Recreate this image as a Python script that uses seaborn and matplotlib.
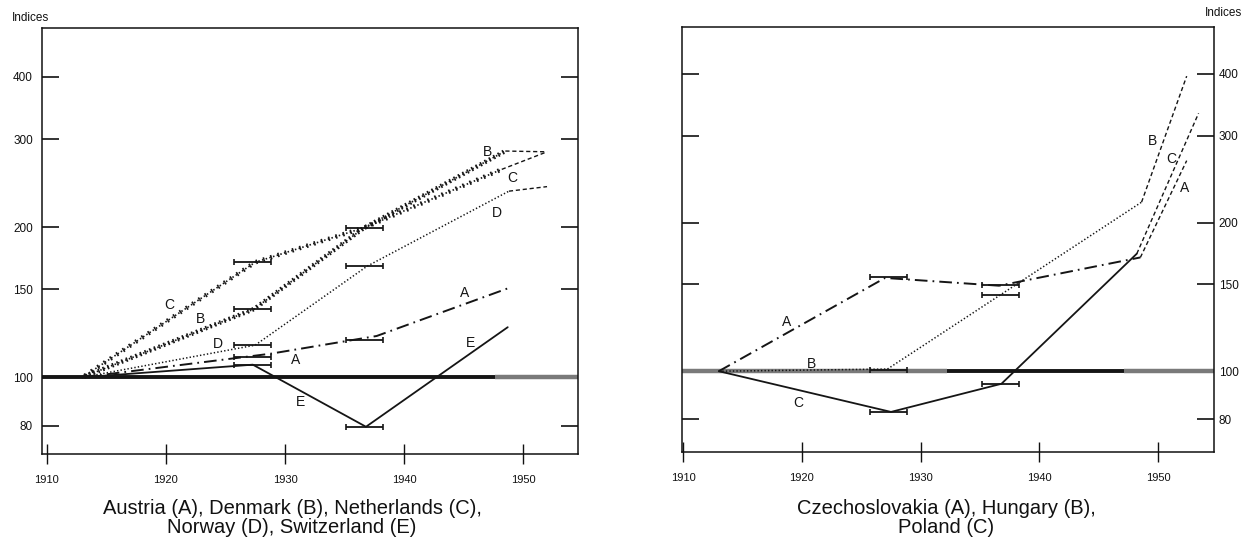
import numpy as np
import pandas as pd
import matplotlib
matplotlib.use("Agg")
import matplotlib.pyplot as plt
import seaborn as sns
from matplotlib import patheffects as pe
from matplotlib.ticker import NullLocator

# ---------------- data ----------------
YEAR_TICKS = [1910, 1920, 1930, 1940, 1950]
INDEX_TICKS = [80, 100, 150, 200, 300, 400]

# Left panel: Austria (A), Denmark (B), Netherlands (C), Norway (D), Switzerland (E)
austria_years = [1913, 1928.8, 1937.7, 1948.8]
austria_vals = [100, 111.5, 121, 151]
denmark_years = [1913, 1927.4, 1936.6, 1948.5]
denmark_vals = [100, 137, 199, 284]
denmark_ext_years = [1948.5, 1952.0]
denmark_ext_vals = [284, 283]
netherlands_years = [1913, 1927.5, 1936.8, 1948.2]
netherlands_vals = [100, 170, 200, 261]
netherlands_ext_years = [1948.2, 1952.0]
netherlands_ext_vals = [261, 283]
norway_years = [1913, 1927.5, 1936.9, 1948.8]
norway_vals = [100, 116, 167, 236]
norway_ext_years = [1948.8, 1952.0]
norway_ext_vals = [236, 241]
switzerland_years = [1913, 1927.3, 1936.8, 1948.7]
switzerland_vals = [100, 106, 79.6, 126]

left_bar_years = [1927.3, 1927.3, 1927.3, 1927.3, 1927.3, 1936.7, 1936.7, 1936.7, 1936.7]
left_bar_vals = [170, 137, 116, 110, 106, 199, 167, 119, 79.6]

# Right panel: Czechoslovakia (A), Hungary (B), Poland (C)
czech_years = [1913, 1927.0, 1936.6, 1948.5]
czech_vals = [100, 154.5, 149, 170]
czech_ext_years = [1948.5, 1952.4]
czech_ext_vals = [170, 267]
hungary_years = [1913, 1927.2, 1948.6]
hungary_vals = [100, 101, 220]
hungary_ext_years = [1948.6, 1952.4]
hungary_ext_vals = [220, 396]
poland_years = [1913, 1927.5, 1936.8, 1948.2]
poland_vals = [100, 82.7, 94.3, 173]
poland_ext_years = [1948.2, 1953.4]
poland_ext_vals = [173, 333]

right_bar_years = [1927.3, 1927.3, 1927.3, 1936.7, 1936.7, 1936.7]
right_bar_vals = [155, 100.5, 82.7, 149.5, 142.6, 94.2]

left_caption = "Austria (A), Denmark (B), Netherlands (C),\nNorway (D), Switzerland (E)"
right_caption = "Czechoslovakia (A), Hungary (B),\nPoland (C)"

# ---------------- style ----------------
sns.set_theme(style="ticks", rc={"axes.edgecolor": "#111111", "axes.linewidth": 1.1,
                                 "xtick.color": "#111111", "ytick.color": "#111111",
                                 "text.color": "#111111"})
plt.rcParams["font.family"] = ["Liberation Sans", "DejaVu Sans"]

INK = "#151515"
GRAY = "#7a7a7a"
DASHDOT = (0, (6.5, 2.6, 0.9, 2.6))
FINEDOT = (0, (0.9, 1.4))
EXTDASH = (0, (3.0, 2.0))


def plus_fx(spacing, length):
    solid = {"dash_offset": 0, "dash_list": None}
    return [pe.TickedStroke(spacing=spacing, angle=90, length=length, dashes=solid),
            pe.TickedStroke(spacing=spacing, angle=-90, length=length, dashes=solid),
            pe.Normal()]


def draw_line(ax, xs, ys, ls, lw=1.2, fx=None):
    df = pd.DataFrame({"year": xs, "index": ys})
    sns.lineplot(data=df, x="year", y="index", ax=ax, color=INK, linewidth=lw,
                 linestyle=ls, estimator=None, sort=False, legend=False)
    if fx is not None:
        ax.lines[-1].set_path_effects(fx)


def draw_bars(ax, xs, ys):
    ax.errorbar(xs, ys, xerr=1.55, fmt="none", ecolor=INK, elinewidth=1.3,
                capsize=2.4, capthick=1.2, zorder=4)


def setup_axis(ax, xlim, ylim, label_side):
    ax.set_yscale("log")
    ax.set_xlim(*xlim)
    ax.set_ylim(*ylim)
    ax.set_xticks(YEAR_TICKS)
    ax.set_xticklabels([str(y) for y in YEAR_TICKS])
    ax.set_yticks(INDEX_TICKS)
    ax.set_yticklabels([str(v) for v in INDEX_TICKS])
    ax.yaxis.set_minor_locator(NullLocator())
    ax.xaxis.set_minor_locator(NullLocator())
    ax.set_xlabel("")
    ax.set_ylabel("")
    for s in ax.spines.values():
        s.set_visible(True)
        s.set_linewidth(1.1)
    ax.tick_params(axis="x", direction="inout", length=14, width=1.0, pad=8,
                   labelsize=8, bottom=True, top=False)
    if label_side == "left":
        ax.tick_params(axis="y", direction="in", length=12, width=1.2, pad=6.5,
                       labelsize=8.5, left=True, right=True,
                       labelleft=True, labelright=False)
    else:
        ax.tick_params(axis="y", direction="in", length=12, width=1.2, pad=3.5,
                       labelsize=8.5, left=True, right=True,
                       labelleft=False, labelright=True)
    ax.set_facecolor("white")


fig = plt.figure(figsize=(12.45, 5.6), dpi=100)
fig.patch.set_facecolor("white")

# ---------------- left panel ----------------
axL = fig.add_axes([42 / 1245, (560 - 454) / 560, 536 / 1245, 426 / 560])
setup_axis(axL, (1909.6, 1954.6), (70.2, 501), "left")

axL.hlines(100, 1909.6, 1947.6, color=INK, linewidth=2.8, zorder=1)
axL.hlines(100, 1947.6, 1954.6, color=GRAY, linewidth=3.2, zorder=1)

draw_line(axL, netherlands_years, netherlands_vals, FINEDOT, 1.2, plus_fx(5.4, 0.3))
draw_line(axL, netherlands_ext_years, netherlands_ext_vals, EXTDASH, 1.0)
draw_line(axL, denmark_years, denmark_vals, FINEDOT, 1.2, plus_fx(3.6, 0.45))
draw_line(axL, denmark_ext_years, denmark_ext_vals, EXTDASH, 1.0)
draw_line(axL, norway_years, norway_vals, FINEDOT, 1.1)
draw_line(axL, norway_ext_years, norway_ext_vals, EXTDASH, 1.0)
draw_line(axL, austria_years, austria_vals, DASHDOT, 1.4)
draw_line(axL, switzerland_years, switzerland_vals, "-", 1.3)
draw_bars(axL, left_bar_years, left_bar_vals)

left_labels = [("C", 1920.25, 139.7), ("B", 1922.9, 131), ("D", 1924.4, 116.7),
               ("A", 1930.9, 108.2), ("E", 1931.3, 89.3), ("E", 1945.6, 117.3),
               ("A", 1945.1, 147.7), ("D", 1947.8, 213), ("C", 1949.1, 251),
               ("B", 1947.0, 283)]
for t, x, y in left_labels:
    axL.text(x, y, t, fontsize=10, ha="center", va="center", color=INK, zorder=6)

# ---------------- right panel ----------------
axR = fig.add_axes([682 / 1245, (560 - 452) / 560, 532 / 1245, 425 / 560])
setup_axis(axR, (1909.9, 1954.7), (68.6, 498), "right")

axR.hlines(100, 1909.9, 1932.2, color=GRAY, linewidth=3.2, zorder=1)
axR.hlines(100, 1932.2, 1947.1, color=INK, linewidth=2.8, zorder=1)
axR.hlines(100, 1947.1, 1954.7, color=GRAY, linewidth=3.2, zorder=1)

draw_line(axR, hungary_years, hungary_vals, FINEDOT, 1.1)
draw_line(axR, hungary_ext_years, hungary_ext_vals, EXTDASH, 1.0)
draw_line(axR, czech_years, czech_vals, DASHDOT, 1.4)
draw_line(axR, czech_ext_years, czech_ext_vals, EXTDASH, 1.0)
draw_line(axR, poland_years, poland_vals, "-", 1.3)
draw_line(axR, poland_ext_years, poland_ext_vals, EXTDASH, 1.0)
draw_bars(axR, right_bar_years, right_bar_vals)

right_labels = [("A", 1918.7, 125.8), ("B", 1920.8, 103.5), ("C", 1919.7, 86.2),
                ("B", 1949.5, 292), ("C", 1951.1, 269), ("A", 1952.2, 235)]
for t, x, y in right_labels:
    axR.text(x, y, t, fontsize=10, ha="center", va="center", color=INK, zorder=6)

# seaborn sets axis labels while plotting: clear them afterwards
for ax in (axL, axR):
    ax.set_xlabel("")
    ax.set_ylabel("")

# ---------------- figure texts ----------------
fig.text(12 / 1245, 1 - 18 / 560, "Indices", fontsize=8.5, ha="left", va="center")
fig.text(1242 / 1245, 1 - 13 / 560, "Indices", fontsize=8.5, ha="right", va="center")
fig.text(292 / 1245, 1 - 518 / 560, left_caption, fontsize=14.5, ha="center",
         va="center", linespacing=1.05, multialignment="center")
fig.text(946 / 1245, 1 - 518 / 560, right_caption, fontsize=14.5, ha="center",
         va="center", linespacing=1.05, multialignment="center")

fig.savefig("out.png", dpi=100, facecolor="white")
